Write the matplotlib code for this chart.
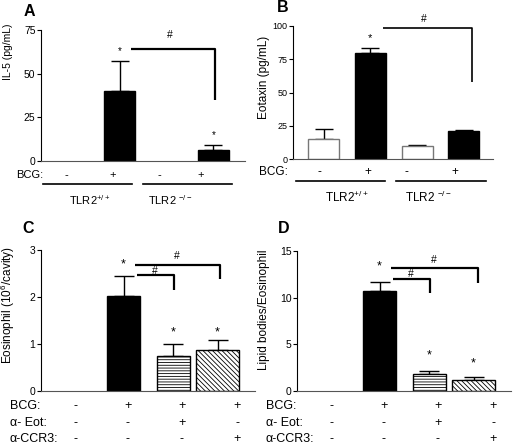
import numpy as np
import matplotlib
matplotlib.use('Agg')
import matplotlib.pyplot as plt

plt.rcParams['font.family'] = ['Liberation Sans', 'DejaVu Sans']
plt.rcParams['mathtext.fontset'] = 'custom'
plt.rcParams['mathtext.rm'] = 'Liberation Sans'
plt.rcParams['mathtext.it'] = 'Liberation Sans'
plt.rcParams['hatch.linewidth'] = 0.6

# values
il5 = [0, 40.2, 0, 6.2]
il5_err = [0, 17.2, 0, 2.7]
eotaxin = [15.2, 79.6, 10.2, 21.0]
eotaxin_err = [7.8, 3.6, 0.8, 1.0]
eosinophil = [0, 2.02, 0.74, 0.87]
eosinophil_err = [0, 0.43, 0.26, 0.21]
lipid = [0, 10.75, 1.79, 1.15]
lipid_err = [0, 0.95, 0.35, 0.30]

bcg_ab = ['-', '+', '-', '+']
bcg_cd = ['-', '+', '+', '+']
eot_cd = ['-', '-', '+', '-']
ccr3_cd = ['-', '-', '-', '+']

W, H = 513, 445
fig = plt.figure(figsize=(W / 100, H / 100), dpi=100)


def px_axes(left, right, top, bottom):
    return fig.add_axes([left / W, 1 - bottom / H, (right - left) / W, (bottom - top) / H])


def ftext(x, y, s, **kw):
    kw.setdefault('ha', 'center')
    kw.setdefault('va', 'center')
    fig.text(x / W, 1 - y / H, s, **kw)


def style(ax, ticks, fs):
    ax.spines['top'].set_visible(False)
    ax.spines['right'].set_visible(False)
    ax.spines['bottom'].set_color('#555555')
    ax.set_xticks([])
    ax.set_yticks(ticks)
    ax.tick_params(axis='y', length=3, width=0.8, pad=1, labelsize=fs)


def bars(ax, pos, vals, errs, widths, faces, edges, hatches, capsize=6.5):
    for p, v, e, w, fc, ec, h in zip(pos, vals, errs, widths, faces, edges, hatches):
        if v == 0:
            continue
        ax.bar(p, v, width=w, color=fc, edgecolor=ec, hatch=h, linewidth=1.0, zorder=2)
        if e > 0:
            ax.errorbar(p, v, yerr=[[0], [e]], fmt='none', ecolor='k', elinewidth=1.0,
                        capsize=capsize, capthick=1.0, zorder=1)


def bracket(ax, x1, x2, y1, y2, lw=1.6):
    ax.plot([x1, x2, x2], [y1, y1, y2], color='k', lw=lw, clip_on=False, solid_capstyle='butt')


pos4 = [0, 1, 2, 3]

# ---- A ----
axA = px_axes(41, 245, 30, 160.7)
bars(axA, pos4, il5, il5_err, [0.66] * 4, ['k'] * 4, ['k'] * 4, [None] * 4)
axA.set_xlim(-0.684, 3.674)
axA.set_ylim(0, 75)
style(axA, [0, 25, 50, 75], 7.5)
axA.text(1, 63, '*', ha='center', va='center', fontsize=7)
axA.text(3, 14.5, '*', ha='center', va='center', fontsize=7)
bracket(axA, 1.24, 3.04, 64, 35)
axA.text(2.07, 72, '#', ha='center', va='center', fontsize=7.5)

# ---- B ----
axB = px_axes(293, 493, 26, 159.3)
bars(axB, pos4, eotaxin, eotaxin_err, [0.66] * 4, ['white', 'k', 'white', 'k'],
     ['#777777', 'k', '#777777', 'k'], [None] * 4)
axB.set_xlim(-0.658, 3.624)
axB.set_ylim(0, 100)
style(axB, [0, 25, 50, 75, 100], 6.5)
axB.text(1, 91, '*', ha='center', va='center', fontsize=8)
bracket(axB, 1.27, 3.17, 98.3, 58.2, lw=1.2)
axB.text(2.15, 105, '#', ha='center', va='center', fontsize=7.5)

# ---- C ----
posCD = [0, 1, 2.04, 2.96]
widCD = [0.69, 0.69, 0.69, 0.9]
faceCD = ['k', 'k', 'white', 'white']
hatchCD = [None, None, '------', '\\\\\\\\\\\\\\']

axC = px_axes(41, 255, 250, 391)
bars(axC, posCD, eosinophil, eosinophil_err, widCD, faceCD, ['k'] * 4, hatchCD, capsize=7)
axC.set_xlim(-0.72, 3.74)
axC.set_ylim(0, 3)
style(axC, [0, 1, 2, 3], 7.5)
axC.text(1, 2.69, '*', ha='center', va='center', fontsize=9)
axC.text(posCD[2], 1.25, '*', ha='center', va='center', fontsize=9)
axC.text(posCD[3], 1.25, '*', ha='center', va='center', fontsize=9)
bracket(axC, 1.24, 3.01, 2.68, 2.38)
bracket(axC, 1.28, 2.05, 2.47, 2.15)
axC.text(2.11, 2.87, '#', ha='center', va='center', fontsize=7.5)
axC.text(1.66, 2.56, '#', ha='center', va='center', fontsize=7.5)

# ---- D ----
axD = px_axes(297, 511, 251, 391)
bars(axD, posCD, lipid, lipid_err, widCD, faceCD, ['k'] * 4, hatchCD, capsize=7)
axD.set_xlim(-0.72, 3.74)
axD.set_ylim(0, 15)
style(axD, [0, 5, 10, 15], 7.5)
axD.text(1, 13.3, '*', ha='center', va='center', fontsize=9)
axD.text(posCD[2], 3.86, '*', ha='center', va='center', fontsize=9)
axD.text(posCD[3], 3.0, '*', ha='center', va='center', fontsize=9)
bracket(axD, 1.24, 3.05, 13.2, 11.6)
bracket(axD, 1.28, 2.05, 12.0, 10.5)
axD.text(2.13, 14.0, '#', ha='center', va='center', fontsize=7.5)
axD.text(1.66, 12.5, '#', ha='center', va='center', fontsize=7.5)

# panel letters
for x, y, s in [(29, 11, 'A'), (283, 8, 'B'), (28, 229, 'C'), (284, 229, 'D')]:
    ftext(x, y, s, fontsize=11.5, fontweight='bold')

# y labels
ftext(8, 52, 'IL-5 (pg/mL)', rotation=90, fontsize=7.5)
ftext(264, 77, 'Eotaxin (pg/mL)', rotation=90, fontsize=8.5)
ftext(8, 305, 'Eosinophil (10$^6$/cavity)', rotation=90, fontsize=8.5)
ftext(264, 310, 'Lipid bodies/Eosinophil', rotation=90, fontsize=8.5)

# A/B treatment rows
ftext(16, 175, 'BCG:', ha='left', fontsize=8)
for x, s in zip([66, 113, 159, 201], bcg_ab):
    ftext(x, 175, s, fontsize=8)
fig.add_artist(plt.Line2D([43 / W, 132 / W], [1 - 184 / H] * 2, color='k', lw=1.2))
fig.add_artist(plt.Line2D([143 / W, 232 / W], [1 - 184 / H] * 2, color='k', lw=1.2))
ftext(90, 200, 'TLR2$^{+/+}$', fontsize=8)
ftext(170, 200, 'TLR2 $^{-/-}$', fontsize=8)

ftext(259, 172, 'BCG:', ha='left', fontsize=8.5)
for x, s in zip([319, 368, 406, 455], bcg_ab):
    ftext(x, 172, s, fontsize=8.5)
fig.add_artist(plt.Line2D([296 / W, 385 / W], [1 - 181 / H] * 2, color='k', lw=1.2))
fig.add_artist(plt.Line2D([396 / W, 486 / W], [1 - 181 / H] * 2, color='k', lw=1.2))
ftext(347, 197, 'TLR2$^{+/+}$', fontsize=8.5)
ftext(428, 197, 'TLR2 $^{-/-}$', fontsize=8.5)

# C/D treatment rows
rows = [('BCG:', bcg_cd, 406), ('\u03b1- Eot:', eot_cd, 423), ('\u03b1-CCR3:', ccr3_cd, 439)]
for x0, cols in [(10, [76, 128, 182, 237]), (266, [332, 384, 438, 493])]:
    for name, signs, y in rows:
        ftext(x0, y, name, ha='left', fontsize=9)
        for x, s in zip(cols, signs):
            ftext(x, y, s, fontsize=9)

fig.savefig('out.png', dpi=100)
